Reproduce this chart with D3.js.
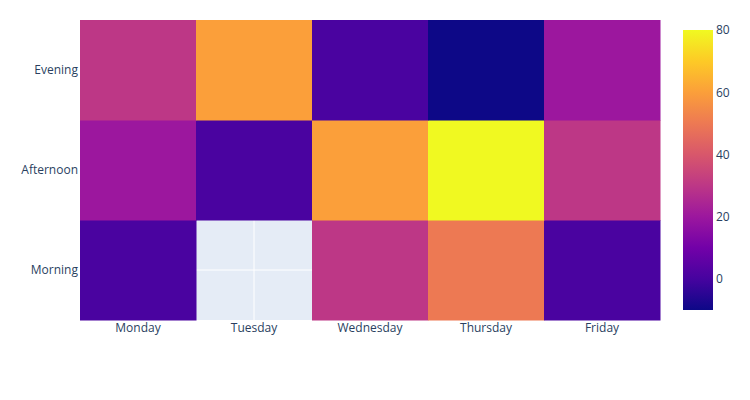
<!DOCTYPE html>
<html><head><meta charset="utf-8">
<script src="https://cdn.jsdelivr.net/npm/d3@7"></script>
<style>body{margin:0;background:#fff;} text{font-family:"Open Sans",sans-serif;}</style>
</head><body>
<svg id="c" width="750" height="400"></svg>
<script>
const days = ["Monday","Tuesday","Wednesday","Thursday","Friday"];
const periods = ["Morning","Afternoon","Evening"];
const morning = [1, null, 30, 50, 1];
const afternoon = [20, 1, 60, 80, 30];
const evening = [30, 60, 1, -10, 20];
const colorTicks = [0, 20, 40, 60, 80];
const plasma = ['#0d0887','#46039f','#7201a8','#9c179e','#bd3786','#d8576b','#ed7953','#fb9f3a','#fdca26','#f0f921'];

const rows = [morning, afternoon, evening];
const cells = [];
rows.forEach((r,i)=>r.forEach((v,j)=>cells.push({day:days[j], period:periods[i], v})));
const vals = cells.map(d=>d.v).filter(v=>v!==null);
const zmin = d3.min(vals), zmax = d3.max(vals);

const svg = d3.select("#c");
const L=80, R=660, T=20, B=320;
const x = d3.scaleBand().domain(days).range([L,R]).padding(0);
const y = d3.scaleBand().domain(periods).range([B,T]).padding(0);
const color = d3.scaleLinear().domain(plasma.map((c,i)=>zmin+(zmax-zmin)*i/(plasma.length-1))).range(plasma).interpolate(d3.interpolateRgb);

svg.append("rect").attr("x",L).attr("y",T).attr("width",R-L).attr("height",B-T).attr("fill","#E5ECF6");
const g = svg.append("g");
days.forEach(d=>g.append("line").attr("x1",x(d)+x.bandwidth()/2).attr("x2",x(d)+x.bandwidth()/2).attr("y1",T).attr("y2",B).attr("stroke","#fff").attr("stroke-width",1));
periods.forEach(p=>g.append("line").attr("y1",y(p)+y.bandwidth()/2).attr("y2",y(p)+y.bandwidth()/2).attr("x1",L).attr("x2",R).attr("stroke","#fff").attr("stroke-width",1));

svg.append("g").selectAll("rect").data(cells.filter(d=>d.v!==null)).join("rect")
  .attr("x",d=>x(d.day)).attr("y",d=>y(d.period))
  .attr("width",x.bandwidth()+0.5).attr("height",y.bandwidth()+0.5)
  .attr("fill",d=>color(d.v));

const xa = svg.append("g").attr("transform",`translate(0,${B})`).call(d3.axisBottom(x).tickSize(0).tickPadding(3));
xa.select(".domain").remove();
xa.selectAll("text").attr("font-size",12).attr("fill","#2a3f5f").style("font-family","'Open Sans',sans-serif");
const ya = svg.append("g").attr("transform",`translate(${L},0)`).call(d3.axisLeft(y).tickSize(0).tickPadding(2));
ya.select(".domain").remove();
ya.selectAll("text").attr("font-size",12).attr("fill","#2a3f5f").style("font-family","'Open Sans',sans-serif");

// colorbar
const cbX=683, cbW=30, cbT=30, cbB=310;
const defs = svg.append("defs");
const grad = defs.append("linearGradient").attr("id","cbg").attr("x1",0).attr("y1",1).attr("x2",0).attr("y2",0);
plasma.forEach((c,i)=>grad.append("stop").attr("offset",i/(plasma.length-1)).attr("stop-color",c));
svg.append("rect").attr("x",cbX).attr("y",cbT).attr("width",cbW).attr("height",cbB-cbT).attr("fill","url(#cbg)");
const cy = d3.scaleLinear().domain([zmin,zmax]).range([cbB,cbT]);
const ca = svg.append("g").attr("transform",`translate(${cbX+cbW},0)`).call(d3.axisRight(cy).tickValues(colorTicks).tickSize(0).tickPadding(3));
ca.select(".domain").remove();
ca.selectAll("text").attr("font-size",12).attr("fill","#2a3f5f").style("font-family","'Open Sans',sans-serif");
</script>
</body></html>
